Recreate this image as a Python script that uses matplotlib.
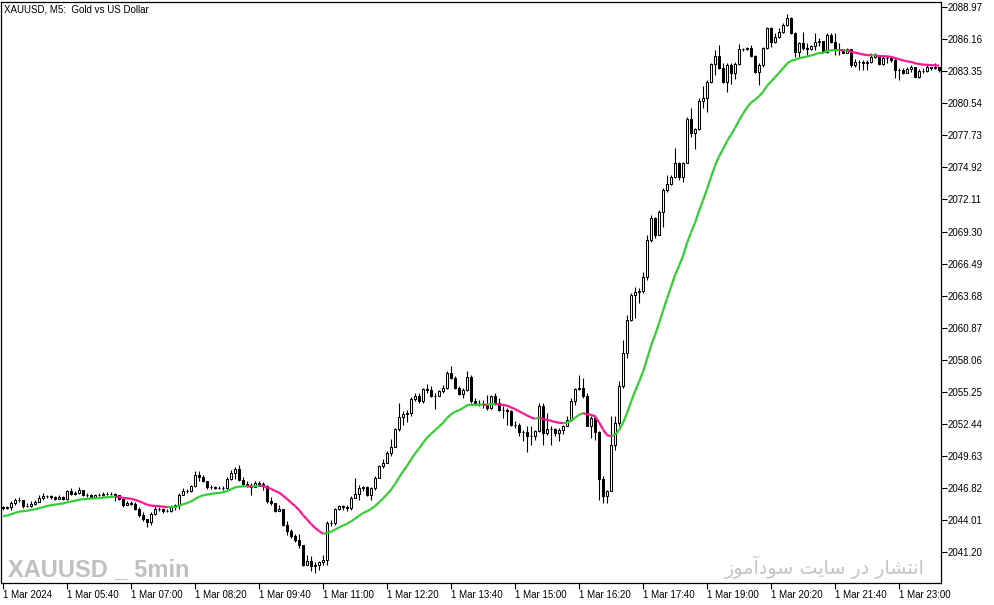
import numpy as np
import matplotlib
matplotlib.use("Agg")
import matplotlib.pyplot as plt
from matplotlib.collections import LineCollection

# XAUUSD M5, 1 Mar 2024 - close / high / low per bar (open = previous close)
first_open = 2045.14
closes = [
    2045.08, 2045.14, 2045.52, 2045.75, 2045.81, 2045.23, 2045.23, 2045.43, 2045.61, 2045.96,
    2046.13, 2046.10, 2046.02, 2045.84, 2046.02, 2045.84, 2046.54, 2046.31, 2046.39, 2046.69,
    2046.25, 2046.19, 2046.07, 2046.19, 2046.25, 2046.28, 2046.31, 2046.31, 2046.19, 2045.87,
    2045.31, 2045.52, 2045.43, 2045.02, 2044.44, 2044.15, 2043.86, 2044.56, 2045.02, 2044.99,
    2044.79, 2044.85, 2045.17, 2045.31, 2046.25, 2046.60, 2046.54, 2046.98, 2047.96, 2047.77,
    2047.47, 2046.89, 2046.89, 2046.83, 2046.83, 2046.83, 2047.65, 2048.15, 2048.52, 2047.56,
    2047.18, 2047.07, 2046.89, 2047.27, 2047.18, 2046.98, 2045.66, 2045.52, 2044.85, 2045.02,
    2043.62, 2043.10, 2042.60, 2042.31, 2041.81, 2040.12, 2040.41, 2039.97, 2040.12, 2040.35,
    2040.56, 2043.77, 2043.77, 2045.00, 2045.23, 2045.17, 2045.05, 2045.96, 2046.34, 2046.84,
    2046.92, 2046.25, 2046.84, 2047.71, 2048.73, 2049.02, 2049.90, 2050.42, 2052.00, 2053.05,
    2053.34, 2053.40, 2054.63, 2054.92, 2054.42, 2055.50, 2055.44, 2054.86, 2054.92, 2055.30,
    2055.59, 2056.90, 2056.47, 2055.59, 2055.09, 2055.44, 2056.55, 2054.42, 2054.22, 2054.19,
    2054.19, 2053.84, 2054.92, 2054.28, 2053.69, 2053.69, 2053.55, 2052.38, 2052.38, 2051.71,
    2051.71, 2051.36, 2051.36, 2051.80, 2054.04, 2051.65, 2052.00, 2052.00, 2051.65, 2051.88,
    2052.23, 2052.82, 2054.42, 2055.50, 2055.59, 2054.86, 2052.29, 2052.96, 2051.71, 2047.62,
    2046.16, 2046.54, 2050.62, 2052.52, 2055.73, 2058.65, 2061.56, 2063.75, 2064.04, 2064.13,
    2065.36, 2068.57, 2070.46, 2069.00, 2071.05, 2072.94, 2073.47, 2074.11, 2075.28, 2074.11,
    2075.34, 2079.13, 2077.90, 2078.25, 2080.76, 2080.97, 2082.43, 2083.97, 2084.67, 2083.59,
    2082.43, 2083.89, 2083.22, 2083.97, 2085.26, 2085.26, 2085.35, 2084.67, 2083.30, 2083.89,
    2085.35, 2087.10, 2085.93, 2086.37, 2086.81, 2087.39, 2087.98, 2086.66, 2085.06, 2085.79,
    2085.35, 2085.26, 2085.55, 2085.93, 2086.02, 2085.06, 2086.52, 2085.93, 2085.20, 2085.26,
    2084.97, 2085.26, 2083.89, 2084.18, 2084.18, 2084.04, 2084.18, 2084.62, 2084.77, 2083.98,
    2084.47, 2084.47, 2084.33, 2083.45, 2083.45, 2083.22, 2083.51, 2083.74, 2082.87, 2083.39,
    2083.39, 2083.74, 2083.60, 2083.74, 2083.45,
]
highs = [
    2045.23, 2045.29, 2045.66, 2045.96, 2046.02, 2045.81, 2045.52, 2045.66, 2045.75, 2046.19,
    2046.39, 2046.25, 2046.19, 2046.13, 2046.19, 2046.13, 2046.69, 2046.83, 2046.60, 2046.89,
    2046.69, 2046.39, 2046.31, 2046.34, 2046.39, 2046.45, 2046.48, 2046.45, 2046.39, 2046.25,
    2046.02, 2045.72, 2045.72, 2045.58, 2045.14, 2044.73, 2044.06, 2044.73, 2045.23, 2045.14,
    2045.08, 2045.02, 2045.31, 2045.43, 2046.39, 2046.83, 2046.77, 2047.12, 2048.29, 2048.29,
    2047.94, 2047.47, 2047.07, 2047.01, 2047.01, 2047.01, 2047.77, 2048.44, 2048.64, 2048.87,
    2047.77, 2047.47, 2047.27, 2047.42, 2047.42, 2047.33, 2047.07, 2046.02, 2045.43, 2045.37,
    2045.02, 2043.97, 2043.27, 2042.81, 2042.81, 2041.87, 2041.00, 2040.85, 2040.35, 2040.47,
    2041.00, 2043.91, 2044.06, 2045.10, 2045.38, 2045.38, 2045.30, 2046.10, 2047.71, 2047.13,
    2047.04, 2046.98, 2046.92, 2047.86, 2048.88, 2049.37, 2050.05, 2051.12, 2052.09, 2054.28,
    2053.55, 2053.69, 2054.80, 2055.15, 2055.15, 2055.59, 2055.97, 2055.74, 2055.15, 2055.39,
    2055.88, 2057.05, 2057.54, 2056.61, 2055.79, 2055.59, 2057.05, 2056.76, 2054.71, 2054.57,
    2054.57, 2055.01, 2055.01, 2055.15, 2054.71, 2053.98, 2053.84, 2053.69, 2052.67, 2052.53,
    2051.94, 2052.23, 2052.23, 2051.94, 2054.28, 2054.28, 2053.40, 2052.23, 2052.09, 2052.09,
    2052.38, 2053.11, 2054.71, 2055.59, 2056.76, 2056.47, 2055.15, 2053.11, 2053.26, 2051.80,
    2047.85, 2046.68, 2053.10, 2053.10, 2056.17, 2059.81, 2062.00, 2063.90, 2064.42, 2064.34,
    2065.79, 2069.00, 2070.76, 2070.61, 2071.19, 2073.09, 2074.26, 2074.26, 2076.59, 2075.42,
    2075.42, 2079.30, 2080.09, 2078.34, 2080.97, 2082.05, 2082.57, 2084.09, 2085.20, 2085.64,
    2084.03, 2084.09, 2084.09, 2084.18, 2085.72, 2085.35, 2085.43, 2085.64, 2084.76, 2084.03,
    2085.49, 2087.25, 2087.25, 2086.66, 2087.10, 2087.54, 2088.35, 2088.13, 2086.81, 2085.93,
    2086.81, 2085.79, 2085.64, 2086.66, 2086.22, 2086.02, 2086.72, 2086.66, 2086.66, 2085.79,
    2085.26, 2085.40, 2085.26, 2084.39, 2084.33, 2084.33, 2084.33, 2084.91, 2084.91, 2084.77,
    2084.77, 2084.77, 2084.47, 2084.47, 2083.60, 2083.60, 2083.74, 2083.89, 2083.60, 2083.51,
    2083.60, 2083.89, 2083.74, 2084.04, 2083.74,
]
lows = [
    2044.94, 2044.99, 2044.94, 2045.37, 2045.61, 2045.08, 2045.14, 2045.14, 2045.37, 2045.58,
    2045.81, 2045.96, 2045.87, 2045.75, 2045.84, 2045.75, 2045.78, 2046.19, 2046.25, 2046.31,
    2046.16, 2046.02, 2045.96, 2046.02, 2046.10, 2046.13, 2046.19, 2046.19, 2045.66, 2045.78,
    2045.20, 2045.31, 2045.31, 2044.94, 2044.32, 2043.97, 2043.39, 2043.62, 2044.50, 2044.85,
    2044.64, 2044.73, 2044.73, 2044.94, 2045.02, 2046.19, 2046.39, 2046.48, 2046.92, 2047.47,
    2047.36, 2046.77, 2046.77, 2046.72, 2046.72, 2046.66, 2046.77, 2047.56, 2047.65, 2047.47,
    2047.07, 2046.89, 2046.25, 2046.89, 2047.04, 2046.69, 2045.52, 2045.37, 2044.73, 2044.79,
    2043.48, 2042.75, 2042.46, 2042.10, 2041.58, 2039.97, 2040.27, 2039.54, 2039.39, 2039.68,
    2040.06, 2040.12, 2043.48, 2043.56, 2044.94, 2044.94, 2044.85, 2044.94, 2045.96, 2045.81,
    2046.54, 2046.16, 2045.81, 2046.69, 2047.86, 2048.59, 2049.02, 2049.67, 2050.42, 2051.80,
    2052.38, 2052.58, 2053.17, 2054.42, 2054.28, 2054.28, 2055.15, 2054.80, 2053.75, 2054.86,
    2055.15, 2055.50, 2056.38, 2055.50, 2055.01, 2054.71, 2055.30, 2054.28, 2054.13, 2054.04,
    2053.84, 2053.69, 2053.75, 2054.13, 2053.55, 2052.96, 2052.38, 2052.23, 2052.09, 2051.42,
    2050.92, 2049.96, 2050.63, 2051.07, 2051.71, 2050.63, 2051.50, 2050.63, 2051.42, 2050.92,
    2051.59, 2052.23, 2052.67, 2054.13, 2055.44, 2054.71, 2052.23, 2051.21, 2051.07, 2045.81,
    2045.52, 2045.52, 2046.54, 2050.18, 2052.23, 2055.58, 2058.21, 2061.42, 2061.71, 2063.08,
    2063.90, 2065.07, 2068.42, 2068.71, 2069.00, 2069.73, 2072.80, 2073.38, 2073.97, 2073.82,
    2073.67, 2075.34, 2077.61, 2076.50, 2078.20, 2080.09, 2079.80, 2082.28, 2083.01, 2083.51,
    2082.34, 2081.55, 2082.22, 2082.63, 2083.89, 2085.14, 2085.20, 2084.62, 2083.22, 2082.14,
    2083.74, 2085.26, 2085.49, 2085.79, 2086.22, 2086.66, 2087.33, 2086.60, 2084.62, 2084.62,
    2085.20, 2084.77, 2085.20, 2085.20, 2085.55, 2084.91, 2084.91, 2085.79, 2084.77, 2084.77,
    2084.91, 2085.06, 2083.74, 2083.74, 2083.45, 2083.45, 2083.45, 2084.04, 2084.47, 2083.89,
    2083.89, 2084.04, 2084.18, 2082.72, 2082.58, 2083.10, 2083.31, 2083.31, 2082.80, 2082.72,
    2083.22, 2083.31, 2083.45, 2083.51, 2083.31,
]

ma_start = 2044.35
ma_period = 20

price_ticks = [2088.97, 2086.16, 2083.35, 2080.54, 2077.73, 2074.92, 2072.11, 2069.30, 2066.49,
               2063.68, 2060.87, 2058.06, 2055.25, 2052.44, 2049.63, 2046.82, 2044.01, 2041.20]
time_labels = ['1 Mar 2024', '1 Mar 05:40', '1 Mar 07:00', '1 Mar 08:20', '1 Mar 09:40',
               '1 Mar 11:00', '1 Mar 12:20', '1 Mar 13:40', '1 Mar 15:00', '1 Mar 16:20',
               '1 Mar 17:40', '1 Mar 19:00', '1 Mar 20:20', '1 Mar 21:40', '1 Mar 23:00']
bars_per_label = 16

closes = np.array(closes)
n = len(closes)
x = np.arange(n)
opens = np.concatenate([[first_open], closes[:-1]])
highs = np.maximum(np.array(highs), np.maximum(opens, closes))
lows = np.minimum(np.array(lows), np.minimum(opens, closes))

alpha = 2.0 / (ma_period + 1)
ma = np.empty(n)
ma[0] = ma_start
for i in range(1, n):
    ma[i] = ma[i - 1] + alpha * (closes[i] - ma[i - 1])

fig = plt.figure(figsize=(9.94, 6.05), dpi=100)
ax = fig.add_axes([1 / 994, 1 - 583 / 605, 940 / 994, 581 / 605])

# watermarks (behind the chart)
ax.text(7 / 940, 7 / 581, 'XAUUSD _ 5min', transform=ax.transAxes,
        family='Liberation Sans', fontweight='bold',
        fontsize=17, color='#c0c0c0', ha='left', va='baseline', zorder=0)
# Persian caption, pre-shaped (presentation forms, visual order)
fa_text = ('\ufeaf\ufeee\ufee3\ufe81\ufea9\ufeee\ufeb3 '
           '\ufe96\ufef3\ufe8e\ufeb3 '
           '\ufead\ufea9 '
           '\ufead\ufe8e\ufeb8\ufe98\ufee7\ufe8d')
ax.text(924 / 940, 9 / 581, fa_text, transform=ax.transAxes, family='DejaVu Sans',
        fontsize=13.8, color='#c4c4c4', ha='right', va='baseline', zorder=0)

# candles
up = closes >= opens
ax.vlines(x, lows, highs, color='black', linewidth=0.8, zorder=2)
ax.bar(x, closes - opens, bottom=opens, width=0.5,
       color=np.where(up, 'white', 'black'), edgecolor='black', linewidth=0.75, zorder=3)

# moving average, green when rising, pink when falling
pts = np.column_stack([x, ma])
segs = np.stack([pts[:-1], pts[1:]], axis=1)
seg_colors = np.where(np.diff(ma) >= 0, '#32cd32', '#ff1493')
ax.add_collection(LineCollection(segs, colors=seg_colors, linewidths=1.6, zorder=4))

ax.set_xlim(-0.5, n - 0.5)
ax.set_ylim(2038.51, 2089.41)

ax.yaxis.tick_right()
ax.set_yticks(price_ticks)
ax.set_yticklabels([f'{p:.2f}' for p in price_ticks])
ax.set_xticks(x[::bars_per_label][:len(time_labels)])
ax.set_xticklabels(time_labels, ha='left')
ax.tick_params(axis='both', direction='out', length=4, width=0.8, colors='black',
               labelsize=7, pad=1)
for lab in ax.get_xticklabels() + ax.get_yticklabels():
    lab.set_family('Liberation Sans')

for sp in ax.spines.values():
    sp.set_color('black')
    sp.set_linewidth(0.9)

fig.text(4 / 994, 1 - 4 / 605, 'XAUUSD, M5:  Gold vs US Dollar', family='Liberation Sans',
         fontsize=7, color='black', ha='left', va='top')

fig.savefig('out.png', dpi=100, facecolor='white')
